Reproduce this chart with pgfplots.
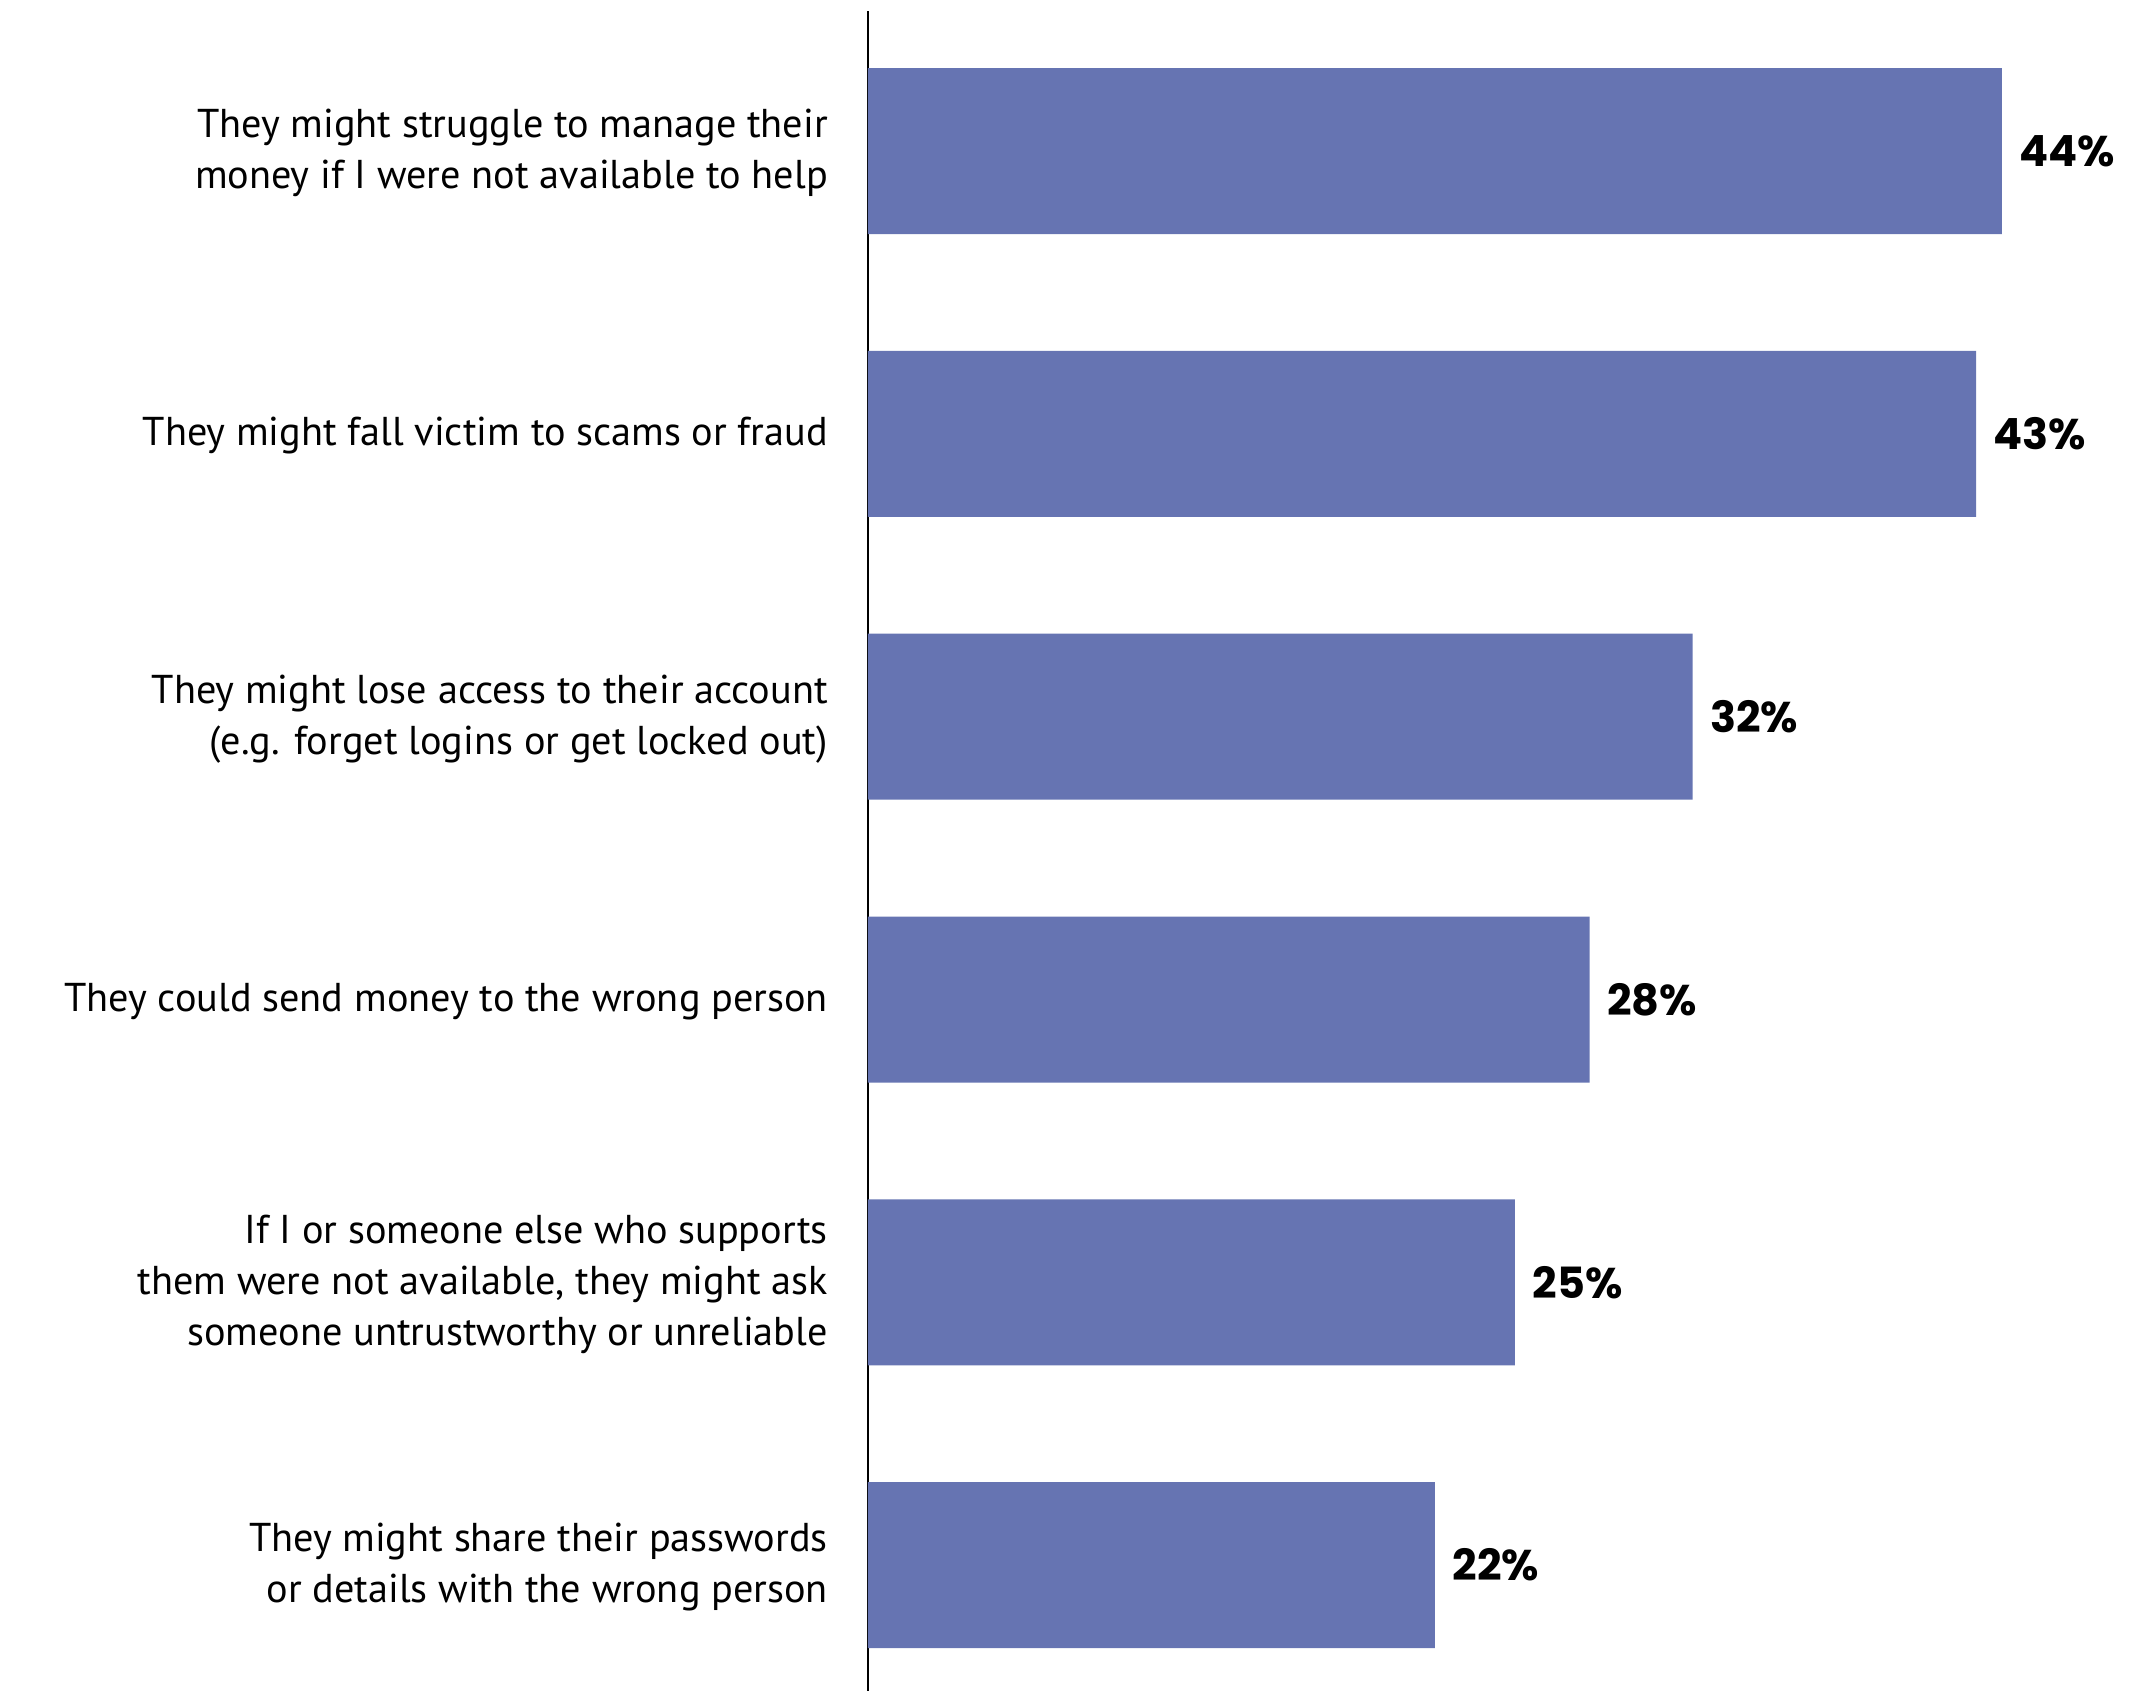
\documentclass[border=0pt]{standalone}
\usepackage{fontspec}
\setmainfont{PT Sans}
\newfontfamily\valfont{Poppins}
\usepackage{pgfplots}
\pgfplotsset{compat=1.18}
\definecolor{barblue}{RGB}{102,116,178}
\begin{document}
\begin{tikzpicture}
\begin{axis}[
  at={(0,0)}, anchor=south west,
  scale only axis,
  width=257.2pt, height=336pt,
  xbar,
  xmin=0, xmax=49.9,
  ymin=-0.495, ymax=5.445,
  y dir=reverse,
  bar width=0.587,
  axis x line=none,
  axis y line*=left,
  y axis line style={black, line width=0.4pt, -},
  ytick={0,1,2,3,4,5},
  major tick length=0pt,
  yticklabels={
    {They might struggle to manage their\\money if I were not available to help},
    {They might fall victim to scams or fraud},
    {They might lose access to their account\\(e.g. forget logins or get locked out)},
    {They could send money to the wrong person},
    {If I or someone else who supports\\them were not available, they might ask\\someone untrustworthy or unreliable},
    {They might share their passwords\\or details with the wrong person}
  },
  yticklabel style={align=right, font=\fontsize{8.05}{10.2}\selectfont, xshift=-4.5pt, yshift=-0.4pt},
  nodes near coords={\pgfplotspointmeta\%},
  point meta=explicit symbolic,
  nodes near coords style={anchor=west, font=\valfont\bfseries\fontsize{8.6}{10}\selectfont, xshift=0pt},
]
\addplot[fill=barblue, draw=none] coordinates {
  (44,0) [44]
  (43,1) [43]
  (32,2) [32]
  (28,3) [28]
  (25.1,4) [25]
  (22,5) [22]
};
\end{axis}
\pgfresetboundingbox
\path[use as bounding box] (-173.6pt,0) rectangle (257pt,338.2pt);
\end{tikzpicture}
\end{document}
